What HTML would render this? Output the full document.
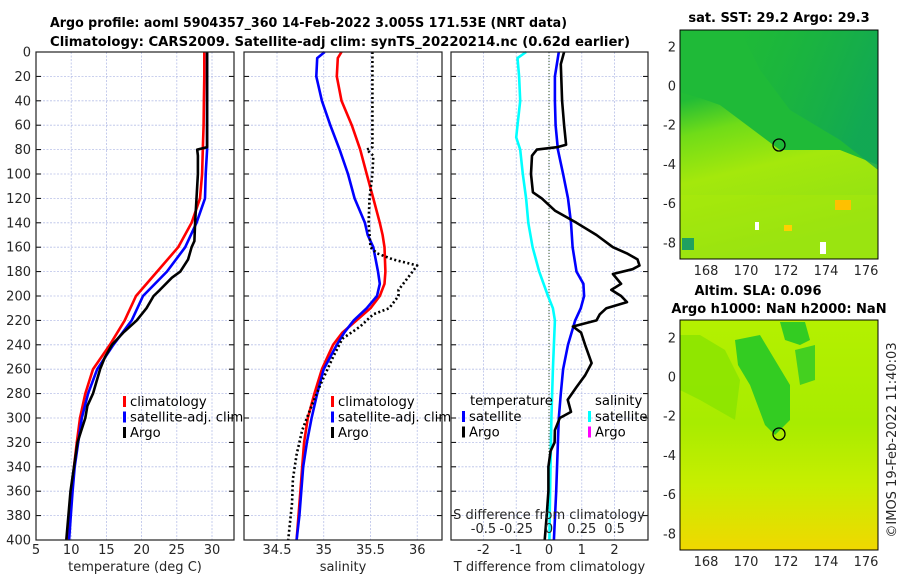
<!DOCTYPE html>
<html><head><meta charset="utf-8"><style>
body{margin:0;background:#fff;}
svg{display:block;font-family:"DejaVu Sans","Liberation Sans",sans-serif;}
.tk{font-size:13px;fill:#262626;}
.ttl{font-size:13px;font-weight:bold;fill:#000;}
.lg{font-size:13.2px;fill:#000;}
</style></head><body>
<svg id="fig" width="900" height="580" viewBox="0 0 900 580">
<defs>
<linearGradient id="g1" x1="0" y1="0" x2="0.2" y2="1">
<stop offset="0" stop-color="#20bb3a"/><stop offset="0.3" stop-color="#22bc36"/><stop offset="0.45" stop-color="#70dc18"/><stop offset="0.65" stop-color="#a4e80c"/><stop offset="1" stop-color="#90e014"/></linearGradient>
<linearGradient id="g1b" x1="0" y1="0" x2="1" y2="0.4">
<stop offset="0" stop-color="#14b040" stop-opacity="0"/><stop offset="0.6" stop-color="#12a850" stop-opacity="0.5"/><stop offset="1" stop-color="#0ea45a" stop-opacity="0.8"/></linearGradient>
<linearGradient id="g2" x1="0" y1="0" x2="0" y2="1">
<stop offset="0" stop-color="#b4f000"/><stop offset="0.45" stop-color="#a8ec00"/><stop offset="0.72" stop-color="#c8ee00"/><stop offset="1" stop-color="#f0d800"/></linearGradient>
</defs>
<text class="ttl" x="50" y="27" textLength="517" lengthAdjust="spacingAndGlyphs">Argo profile: aoml 5904357_360 14-Feb-2022 3.005S 171.53E (NRT data)</text>
<text class="ttl" x="50" y="46" textLength="580" lengthAdjust="spacingAndGlyphs">Climatology: CARS2009. Satellite-adj clim: synTS_20220214.nc (0.62d earlier)</text>
<g id="plots"></g>
<g>
<text class="ttl" x="779" y="22" text-anchor="middle">sat. SST: 29.2 Argo: 29.3</text>
<rect x="680" y="30" width="198" height="229" fill="url(#g1)"/>
<polygon points="680,92 700,98 720,105 740,120 760,135 780,150 810,150 840,150 878,165 878,30 680,30" fill="#1fba38"/>
<polygon points="740,30 878,30 878,170 840,140 790,110 760,70" fill="url(#g1b)"/>
<rect x="680" y="195" width="198" height="64" fill="#b0ec08" opacity="0.35"/>
<rect x="835" y="200" width="16" height="10" fill="#ffc000"/>
<rect x="784" y="225" width="8" height="6" fill="#ffd000"/>
<rect x="682" y="238" width="12" height="12" fill="#20a060"/>
<rect x="820" y="242" width="6" height="12" fill="#fff"/>
<rect x="755" y="222" width="4" height="8" fill="#fff"/>
<circle cx="779" cy="145" r="6" fill="none" stroke="#000" stroke-width="1.3"/>
<rect x="680" y="30" width="198" height="229" fill="none" stroke="#000"/>
</g>
<g>
<text class="ttl" x="758" y="295" text-anchor="middle">Altim. SLA: 0.096</text>
<text class="ttl" x="779" y="313" text-anchor="middle">Argo h1000: NaN h2000: NaN</text>
<rect x="680" y="320" width="198" height="230" fill="url(#g2)"/>
<polygon points="680,335 700,335 725,350 740,380 735,420 700,400 680,390" fill="#88e400" opacity="0.8"/>
<polygon points="735,340 760,335 775,360 790,385 790,420 775,435 765,425 750,385 738,365" fill="#33cc22"/>
<polygon points="780,322 805,322 810,340 800,345 785,340" fill="#33cc22"/>
<polygon points="795,350 815,345 815,380 800,385" fill="#44d020"/>
<circle cx="779" cy="434" r="6" fill="none" stroke="#000" stroke-width="1.3"/>
<rect x="680" y="320" width="198" height="230" fill="none" stroke="#000"/>
</g>
<text class="tk" transform="translate(896,440) rotate(-90)" text-anchor="middle">©IMOS 19-Feb-2022 11:40:03</text>
</svg>
<script>
const depthT = [0,20,40,60,80,100,120,140,160,180,200,220,240,260,280,300,320,340,360,380,400];
const tempClim = [28.9,28.9,28.85,28.8,28.7,28.6,28.3,27.1,25.2,22.2,19.2,17.6,15.5,13.1,12.0,11.25,10.8,10.4,10.1,9.7,9.5];
const tempSat = [29.3,29.3,29.3,29.3,29.3,29.1,29.0,27.8,26.2,23.6,20.2,18.6,16.0,13.7,12.4,11.5,11.0,10.5,10.2,9.95,9.7];
const depthArgo = [0,40,78,80,85,100,120,140,155,160,170,180,185,195,200,210,220,230,240,250,260,280,290,300,320,340,360,380,400];
const tempArgo = [29.3,29.3,29.3,27.9,28.0,28.0,27.8,27.6,27.5,27.1,26.6,25.5,24.3,22.6,21.7,20.7,19.3,17.4,15.8,14.8,14.1,13.1,12.3,12.0,10.9,10.4,9.9,9.6,9.3];
const depthS = [0,5,20,40,60,80,100,120,140,150,160,180,190,200,210,220,230,240,260,280,300,320,340,360,380,400];
const salClim = [35.19,35.15,35.14,35.19,35.3,35.39,35.46,35.53,35.6,35.63,35.65,35.66,35.65,35.6,35.5,35.35,35.2,35.1,34.98,34.9,34.83,34.79,34.77,34.75,34.73,34.71];
const salSat = [35.01,34.93,34.92,34.98,35.07,35.17,35.26,35.33,35.44,35.47,35.53,35.58,35.6,35.57,35.46,35.32,35.22,35.14,35.0,34.93,34.87,34.82,34.78,34.76,34.74,34.71];
const depthSA = [0,78,80,85,100,120,140,160,165,170,175,185,195,200,210,215,225,235,250,270,290,310,330,350,370,400];
const salArgo = [35.52,35.52,35.46,35.53,35.52,35.49,35.48,35.5,35.57,35.74,36.0,35.9,35.8,35.8,35.7,35.53,35.39,35.2,35.1,34.98,34.87,34.77,34.71,34.67,34.66,34.62];
const depthD = [0,20,40,60,80,100,120,140,160,180,190,200,210,220,240,260,280,300,320,360,400];
const tDiffSat = [0.3,0.18,0.18,0.2,0.27,0.43,0.58,0.67,0.72,0.84,1.05,1.07,0.97,0.8,0.58,0.43,0.36,0.3,0.27,0.22,0.15];
const depthSD = [0,5,20,40,60,70,80,100,120,140,160,180,200,210,220,260,300,360,400];
const sDiffSat = [-0.175,-0.24,-0.228,-0.22,-0.24,-0.25,-0.22,-0.2,-0.175,-0.158,-0.125,-0.075,-0.008,0.03,0.045,0.03,0.018,0.008,0.003];
const depthDA = [0,10,40,60,76,78,80,85,100,115,120,130,140,150,160,165,170,175,178,182,190,195,200,205,210,215,220,225,230,240,255,265,275,285,295,300,310,320,327,340,360,380,400];
const tDiffArgo = [0.46,0.36,0.4,0.46,0.52,0.24,-0.37,-0.52,-0.55,-0.49,-0.22,0.18,0.84,1.45,1.95,2.37,2.7,2.76,2.55,1.95,2.2,1.9,2.2,2.38,1.75,1.55,1.45,0.73,0.98,1.1,1.3,1.1,0.83,0.57,0.67,0.33,0.18,0.17,0.05,-0.02,-0.02,-0.07,-0.13];
const depthTicks = [0,20,40,60,80,100,120,140,160,180,200,220,240,260,280,300,320,340,360,380,400];
const tempTicks = [5,10,15,20,25,30];
const salTicks = [34.5,35,35.5,36];
const dTicks = [-2,-1,0,1,2];
const sDiffTicks = [-0.5,-0.25,0,0.25,0.5];
const lonTicks = [168,170,172,174,176];
const latTicks = [2,0,-2,-4,-6,-8];

const NS='http://www.w3.org/2000/svg';
const root=document.getElementById('plots');
function mk(tag,attrs,parent){const e=document.createElementNS(NS,tag);for(const k in attrs)e.setAttribute(k,attrs[k]);(parent||root).appendChild(e);return e;}
const top0=52,bot0=540;
const yD=d=>top0+d*(bot0-top0)/400;

function panel(name,x0,x1,v0,v1,ticks,fmt,label){
  const g=mk('g',{});
  
  
  const xf=v=>x0+(v-v0)*(x1-x0)/(v1-v0);
  depthTicks.forEach(d=>{
    const l=mk('line',{x1:x0,x2:x1,y1:yD(d),y2:yD(d),stroke:'#b8c0e8','stroke-width':0.8,'stroke-dasharray':'2,1.5'},g);
    
    
    mk('line',{x1:x0,x2:x0+5,y1:yD(d),y2:yD(d),stroke:'#000'},g);
    mk('line',{x1:x1-5,x2:x1,y1:yD(d),y2:yD(d),stroke:'#000'},g);
  });
  ticks.forEach(v=>{
    const l=mk('line',{x1:xf(v),x2:xf(v),y1:top0,y2:bot0,stroke:'#b8c0e8','stroke-width':0.8,'stroke-dasharray':'2,1.5'},g);
    
    
    const t=mk('text',{x:xf(v),y:554,'text-anchor':'middle',class:'tk'},g);
    t.textContent=fmt(v);
    
    
  });
  const lb=mk('text',{x:(x0+x1)/2,y:571,'text-anchor':'middle',class:'tk','font-size':'13.4'},g);
  lb.textContent=label;
  
  
  return {g,xf};
}
function line(p,vals,deps,color,w,dash,name){
  const pts=vals.map((v,i)=>p.xf(v).toFixed(1)+','+yD(deps[i]).toFixed(1)).join(' ');
  const a={points:pts,fill:'none',stroke:color,'stroke-width':w,'stroke-linejoin':'round'};
  if(dash)a['stroke-dasharray']=dash;
  const l=mk('polyline',a,p.g);
  
  
}
function frame(p,x0,x1){mk('rect',{x:x0,y:top0,width:x1-x0,height:bot0-top0,fill:'none',stroke:'#222','stroke-width':1.2},p.g);}
function legend(p,x,y,items){
  items.forEach((it,i)=>{
    mk('rect',{x:x,y:y+i*15.5-10,width:3,height:11,fill:it[1]},p.g);
    const t=mk('text',{x:x+7,y:y+i*15.5,class:'lg'},p.g);
    t.textContent=it[0];
    
    
  });
}
depthTicks.forEach(d=>{
  const t=mk('text',{x:31,y:yD(d)+4.5,'text-anchor':'end',class:'tk'});
  t.textContent=d;
  
  
});
const p1=panel('temperature',36,234,5,33.125,tempTicks,v=>v,'temperature (deg C)');
line(p1,tempClim,depthT,'#ff0000',2.6,null,'temp-climatology-line');
line(p1,tempSat,depthT,'#0000ff',2.6,null,'temp-satellite-line');
line(p1,tempArgo,depthArgo,'#000',2.6,null,'temp-argo-line');
frame(p1,36,234);
legend(p1,123,406,[['climatology','#ff0000'],['satellite-adj. clim','#0000ff'],['Argo','#000']]);
const p2=panel('salinity',244,442,34.147,36.265,salTicks,v=>v,'salinity');
line(p2,salClim,depthS,'#ff0000',2.6,null,'sal-climatology-line');
line(p2,salSat,depthS,'#0000ff',2.6,null,'sal-satellite-line');
line(p2,salArgo,depthSA,'#000',2.6,'2,2.5','sal-argo-line');
frame(p2,244,442);
legend(p2,331,406,[['climatology','#ff0000'],['satellite-adj. clim','#0000ff'],['Argo','#000']]);
const p3=panel('difference',451,648,-2.99,3.02,dTicks,v=>v,'T difference from climatology');
mk('line',{x1:p3.xf(0),x2:p3.xf(0),y1:top0,y2:bot0,stroke:'#335522','stroke-width':1,'stroke-dasharray':'1,2'},p3.g);
const sx={xf:v=>p3.xf(v*4),g:p3.g};
line(sx,sDiffSat,depthSD,'#00ffff',2.6,null,'sal-diff-satellite-line');
line(p3,tDiffSat,depthD,'#0000ff',2.6,null,'temp-diff-satellite-line');
line(p3,tDiffArgo,depthDA,'#000',2.6,null,'temp-diff-argo-line');
frame(p3,451,648);
const tt=mk('text',{x:470,y:405,class:'lg'},p3.g);tt.textContent='temperature';


const ts=mk('text',{x:595,y:405,class:'lg'},p3.g);ts.textContent='salinity';


legend(p3,462,421,[['satellite','#0000ff'],['Argo','#000']]);
legend(p3,588,421,[['satellite','#00ffff'],['Argo','#ff00ff']]);
const st=mk('text',{x:549,y:519,'text-anchor':'middle',class:'tk','font-size':'13.2'},p3.g);
st.textContent='S difference from climatology';


sDiffTicks.forEach(v=>{
  const t=mk('text',{x:sx.xf(v),y:533,'text-anchor':'middle',class:'tk'},p3.g);
  t.textContent=v;
  
  
});
function mapAxes(y0,y1,lat2y,name){
  const g=mk('g',{});
  
  
  lonTicks.forEach(v=>{
    const x=706+(v-168)*20;
    mk('line',{x1:x,x2:x,y1:y1,y2:y1-4,stroke:'#000'},g);
    mk('line',{x1:x,x2:x,y1:y0,y2:y0+4,stroke:'#000'},g);
    const t=mk('text',{x:x,y:y1+16,'text-anchor':'middle',class:'tk'},g);
    t.textContent=v;
    
    
  });
  latTicks.forEach(v=>{
    const y=lat2y(v);
    mk('line',{x1:680,x2:684,y1:y,y2:y,stroke:'#000'},g);
    mk('line',{x1:874,x2:878,y1:y,y2:y,stroke:'#000'},g);
    const t=mk('text',{x:676,y:y+4.5,'text-anchor':'end',class:'tk'},g);
    t.textContent=v;
    
    
  });
}
mapAxes(30,259,v=>86-v*19.6,'sst-map');
mapAxes(320,550,v=>377-v*19.6,'sla-map');
</script>
</body></html>
